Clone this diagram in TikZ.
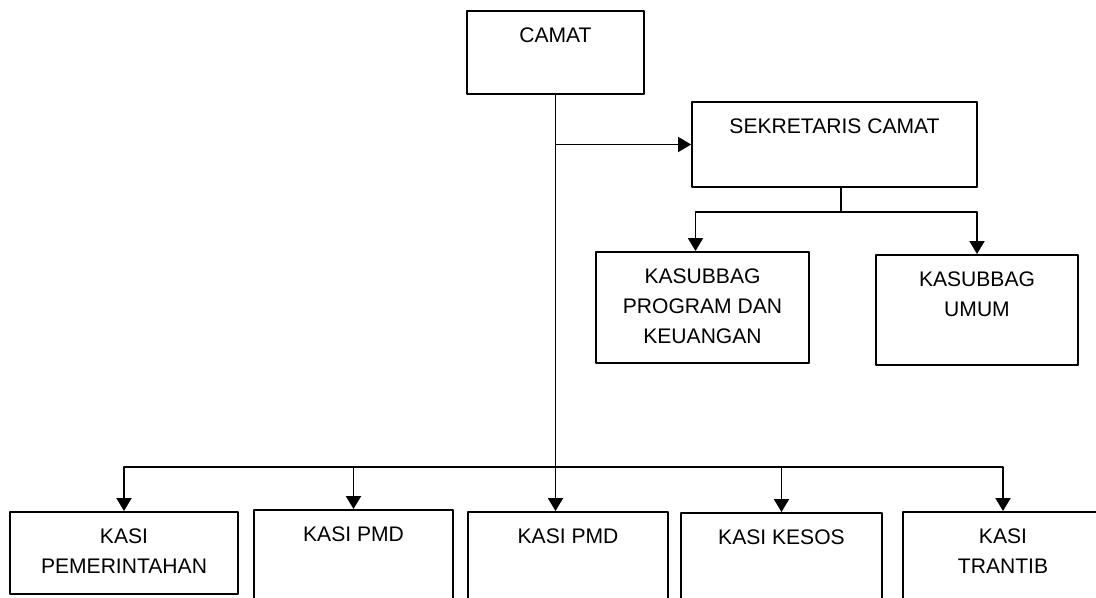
\documentclass[tikz,border=0pt]{standalone}
\usepackage{fontspec}
\setmainfont{Liberation Sans}
\usetikzlibrary{arrows.meta}
\tikzset{
	box/.style={draw, line width=1.1pt, inner sep=0pt},
	boxtext/.style={anchor=north, inner sep=0pt, align=center, yshift=-0.35cm, font=\fontsize{12}{17}\selectfont},
	link/.style={line width=1.1pt},
}
\begin{document}
\begin{tikzpicture}[x=0.02cm, y=-0.02cm, line join=round, >={Triangle[length=2.6mm,width=3mm]}]
		\def\W{1096}\def\H{598}
		\useasboundingbox (0,0) rectangle (\W,\H);
		\clip (0,0) rectangle (\W,\H);
		% top
		\node[box, minimum width=3.54cm, minimum height=1.66cm, label={[boxtext]north:CAMAT}] (camat) at (555.5,52.5) {};
		\node[box, minimum width=5.70cm, minimum height=1.70cm, label={[boxtext]north:SEKRETARIS CAMAT}] (sekcam) at (834.5,144.5) {};
		\node[box, minimum width=4.26cm, minimum height=2.22cm, label={[boxtext]north:KASUBBAG\\PROGRAM DAN\\KEUANGAN}] (kprog) at (702.5,307.5) {};
		\node[box, minimum width=4.04cm, minimum height=2.20cm, label={[boxtext]north:KASUBBAG\\UMUM}] (kumum) at (977,310) {};
		% bottom row
		\node[box, minimum width=4.56cm, minimum height=1.64cm, label={[boxtext]north:KASI\\PEMERINTAHAN}] (kpem) at (124,553) {};
		\node[box, minimum width=3.98cm, minimum height=2cm, label={[boxtext]north:KASI PMD}] (kpmda) at (353.5,560) {};
		\node[box, minimum width=4.00cm, minimum height=2cm, label={[boxtext]north:KASI PMD}] (kpmdb) at (568,562) {};
		\node[box, minimum width=4.02cm, minimum height=2cm, label={[boxtext]north:KASI KESOS}] (kkesos) at (781.5,563) {};
		\node[box, minimum width=4.00cm, minimum height=2cm, label={[boxtext]north:KASI\\TRANTIB}] (ktrantib) at (1003,562) {};
		% lines
		\coordinate (sekfork) at (841,212);
		\coordinate (bus) at (556,467);
		\draw[link,->] (camat.south) -- (camat.south |- kpmdb.north);
		\draw[link,->] (camat.south |- sekcam.west) -- (sekcam.west);
		\draw[link] (sekfork |- sekcam.south) -- (sekfork);
		\draw[link,->] (sekfork) -| ([xshift=-0.14cm]kprog.north);
		\draw[link,->] (sekfork) -| (kumum.north);
		\draw[link,->] (bus) -| (kpem.north);
		\draw[link,->] (bus) -| (ktrantib.north);
		\draw[link,->] (kpmda.north |- bus) -- (kpmda.north);
		\draw[link,->] (kkesos.north |- bus) -- (kkesos.north);
\end{tikzpicture}
\end{document}
